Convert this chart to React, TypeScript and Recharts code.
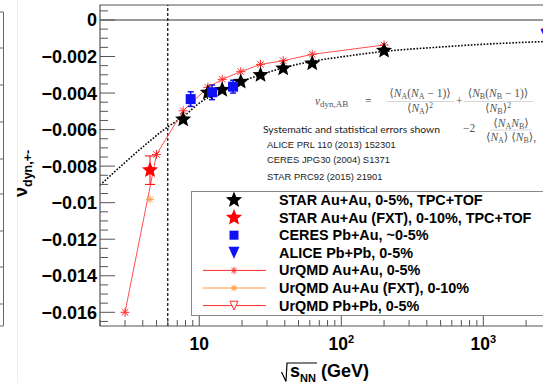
import {
  ComposedChart,
  Line,
  Scatter,
  XAxis,
  YAxis,
  ReferenceLine,
  ReferenceArea,
  ErrorBar,
} from 'recharts'

const SANS = '"Liberation Sans", Arial, Helvetica, sans-serif'
const SERIF = '"Liberation Serif", "DejaVu Serif", serif'

// sqrt(s_NN) in GeV and nu_dyn,+- per dataset
const starEnergy = [7.7, 11.5, 14.5, 19.6, 27, 39, 62.4, 200]
const starValue = [-0.00544, -0.00398, -0.00382, -0.00338, -0.00301, -0.00265, -0.00237, -0.00168]

const fxtEnergy = [4.5]
const fxtValue = [-0.00822]
const fxtError = [0.00078]

const ceresEnergy = [8.7, 12.3, 17.3]
const ceresValue = [-0.00433, -0.00396, -0.00365]
const ceresError = [0.0004, 0.0004, 0.00035]

const aliceEnergy = [2760]
const aliceValue = [-0.00082]

const urqmdEnergy = [3, 5, 7.7, 11.5, 14.5, 19.6, 27, 39, 62.4, 200]
const urqmdValue = [-0.016, -0.00736, -0.00497, -0.00369, -0.00325, -0.00283, -0.00243, -0.00223, -0.00188, -0.00137]

const urqmdFxtEnergy = [4.5]
const urqmdFxtValue = [-0.00982]

const urqmdPbEnergy = [2760]
const urqmdPbValue = [-0.0007]

// dotted trend curve
const trendEnergy = [2, 3, 4, 6, 7.7, 10, 14.5, 20, 27, 39, 62.4, 100, 200, 500, 1000, 2700]
const trendValue = [-0.00904, -0.0078, -0.00695, -0.00585, -0.0053, -0.00455, -0.00385, -0.00335, -0.003, -0.00262, -0.00226, -0.00202, -0.00172, -0.00148, -0.00133, -0.00118]

const legendLabels = [
  'STAR Au+Au, 0-5%, TPC+TOF',
  'STAR Au+Au (FXT), 0-10%, TPC+TOF',
  'CERES Pb+Au, ~0-5%',
  'ALICE Pb+Pb, 0-5%',
  'UrQMD Au+Au, 0-5%',
  'UrQMD Au+Au (FXT), 0-10%',
  'UrQMD Pb+Pb, 0-5%',
]

const references = [
  'ALICE PRL 110 (2013) 152301',
  'CERES JPG30 (2004) S1371',
  'STAR PRC92 (2015) 21901',
]

const yDomain: [number, number] = [-0.01675, 0.00082]
const yMajor = [0, -0.002, -0.004, -0.006, -0.008, -0.01, -0.012, -0.014, -0.016]
const yTicks = Array.from({ length: 35 }, (_, i) => +(0.0005 - i * 0.0005).toFixed(4))

const xDomain: [number, number] = [2, 5000]
const xMajor = [10, 100, 1000]
const xExponent: Record<number, string> = { 10: '', 100: '2', 1000: '3' }
const xTicks = [1, 10, 100, 1000]
  .flatMap(d => [1, 2, 3, 4, 5, 6, 7, 8, 9].map(k => k * d))
  .filter(v => v >= 2 && v <= 5000)

const pts = (e: number[], v: number[], err?: number[]) =>
  e.map((x, i) => ({ e: x, v: v[i], err: err ? err[i] : 0 }))

const RED = '#ff2a2a'
const ORANGE = '#ff9a3c'
const BLUE = '#1010f5'
const AXIS = '#555'

function starPath(cx: number, cy: number, R: number, r: number) {
  let d = ''
  for (let i = 0; i < 10; i++) {
    const rad = i % 2 === 0 ? R : r
    const a = -Math.PI / 2 + (i * Math.PI) / 5
    d += (i === 0 ? 'M' : 'L') + (cx + rad * Math.cos(a)).toFixed(2) + ',' + (cy + rad * Math.sin(a)).toFixed(2)
  }
  return d + 'Z'
}

function Star({ cx, cy, fill }: { cx: number; cy: number; fill: string }) {
  return <path d={starPath(cx, cy, 8.5, 3.8)} fill={fill} />
}

function Asterisk({ cx, cy, r, color }: { cx: number; cy: number; r: number; color: string }) {
  const d = r * 0.7071
  return (
    <g stroke={color} strokeWidth={1}>
      <line x1={cx - r} x2={cx + r} y1={cy} y2={cy} />
      <line x1={cx} x2={cx} y1={cy - r} y2={cy + r} />
      <line x1={cx - d} y1={cy - d} x2={cx + d} y2={cy + d} />
      <line x1={cx - d} y1={cy + d} x2={cx + d} y2={cy - d} />
    </g>
  )
}

function DownTriangle({ cx, cy, size, fill, stroke }: { cx: number; cy: number; size: number; fill: string; stroke?: string }) {
  const h = size * 0.55
  return (
    <path
      d={`M${cx - size / 2},${cy - h} L${cx + size / 2},${cy - h} L${cx},${cy + h} Z`}
      fill={fill}
      stroke={stroke ?? 'none'}
      strokeWidth={1}
    />
  )
}

function YTick(props: any) {
  const { x, y, payload } = props
  const v = payload.value as number
  const major = yMajor.some(m => Math.abs(m - v) < 1e-7)
  const label = v === 0 ? '0' : '\u2212' + String(Math.abs(v))
  return (
    <g>
      <line x1={x} x2={x + (major ? 15 : 8)} y1={y} y2={y} stroke={AXIS} />
      {major && (
        <text x={x - 3} y={y} dy="0.36em" textAnchor="end" fontFamily={SANS} fontWeight="bold" fontSize={18} fill="#000">
          {label}
        </text>
      )}
    </g>
  )
}

function XTick(props: any) {
  const { x, y, payload } = props
  const v = payload.value as number
  const major = xMajor.includes(v)
  const exp = xExponent[v]
  return (
    <g>
      <line x1={x} x2={x} y1={y} y2={y - (major ? 13 : 6)} stroke={AXIS} />
      {major && (
        <text x={x} y={y + 24} textAnchor="middle" fontFamily={SANS} fontWeight="bold" fontSize={17.5} fill="#000">
          10
          {exp && (
            <tspan dy={-7} fontSize={11}>
              {exp}
            </tspan>
          )}
        </text>
      )}
    </g>
  )
}

function LegendIcon({ index, cx, cy }: { index: number; cx: number; cy: number }) {
  switch (index) {
    case 0:
      return <Star cx={cx} cy={cy} fill="#000" />
    case 1:
      return <Star cx={cx} cy={cy} fill="#ff0000" />
    case 2:
      return <rect x={cx - 4.5} y={cy - 4.5} width={9} height={9} fill={BLUE} />
    case 3:
      return <DownTriangle cx={cx} cy={cy} size={11} fill={BLUE} />
    case 4:
      return (
        <g>
          <line x1={12} x2={75} y1={cy} y2={cy} stroke={RED} />
          <Asterisk cx={cx} cy={cy} r={3.5} color={RED} />
        </g>
      )
    case 5:
      return (
        <g>
          <line x1={12} x2={75} y1={cy} y2={cy} stroke={ORANGE} />
          <Asterisk cx={cx} cy={cy} r={3.5} color={ORANGE} />
        </g>
      )
    default:
      return (
        <g>
          <line x1={12} x2={75} y1={cy} y2={cy} stroke={RED} />
          <DownTriangle cx={cx} cy={cy} size={8} fill="#fff" stroke={RED} />
        </g>
      )
  }
}

function Legend() {
  return (
    <svg
      width={400}
      height={125}
      style={{ position: 'absolute', left: 191, top: 191, overflow: 'visible' }}
    >
      <rect x={0.5} y={0.5} width={399} height={124} fill="#fff" stroke="#888" />
      {legendLabels.map((label, i) => {
        const cy = 9 + i * 17.6
        return (
          <g key={label}>
            <LegendIcon index={i} cx={43} cy={cy} />
            <text x={88} y={cy + 5} fontFamily={SANS} fontWeight="bold" fontSize={14.4} fill="#000">
              {label}
            </text>
          </g>
        )
      })}
    </svg>
  )
}

function Sub({ children, size = 8 }: { children: string; size?: number }) {
  return (
    <tspan fontSize={size} dy={2}>
      {children}
    </tspan>
  )
}

function Annotations() {
  const leftTicks = [12, 48, 85, 122, 159, 194, 231, 267, 304, 326]
  return (
    <svg width={543} height={383} style={{ position: 'absolute', left: 0, top: 0, pointerEvents: 'none' }}>
      {/* edge of the neighbouring panel */}
      <line x1={3.5} x2={3.5} y1={12} y2={326} stroke="#666" />
      {leftTicks.map(t => (
        <line key={t} x1={0} x2={3.5} y1={t} y2={t} stroke="#666" />
      ))}
      <line x1={17.5} x2={17.5} y1={0} y2={383} stroke="#eee" />

      {/* formula */}
      <g fontFamily={SERIF} fill="#555" fontSize={11.5}>
        <text x={315} y={105}>
          <tspan fontStyle="italic">ν</tspan>
          <Sub size={9}>dyn,AB</Sub>
        </text>
        <text x={365} y={105}>=</text>
        <text x={420} y={97} textAnchor="middle">
          ⟨<tspan fontStyle="italic">N</tspan>
          <Sub>A</Sub>
          <tspan dy={-2}>(</tspan>
          <tspan fontStyle="italic">N</tspan>
          <Sub>A</Sub>
          <tspan dy={-2}> − 1)⟩</tspan>
        </text>
        <line x1={387} x2={454} y1={101.5} y2={101.5} stroke="#bbb" strokeWidth={0.6} />
        <text x={420} y={112} textAnchor="middle">
          ⟨<tspan fontStyle="italic">N</tspan>
          <Sub>A</Sub>
          <tspan dy={-2}>⟩</tspan>
          <tspan dy={-4} fontSize={7.5}>2</tspan>
        </text>
        <text x={456} y={105}>+</text>
        <text x={498} y={97} textAnchor="middle">
          ⟨<tspan fontStyle="italic">N</tspan>
          <Sub>B</Sub>
          <tspan dy={-2}>(</tspan>
          <tspan fontStyle="italic">N</tspan>
          <Sub>B</Sub>
          <tspan dy={-2}> − 1)⟩</tspan>
        </text>
        <line x1={464} x2={533} y1={101.5} y2={101.5} stroke="#bbb" strokeWidth={0.6} />
        <text x={498} y={112} textAnchor="middle">
          ⟨<tspan fontStyle="italic">N</tspan>
          <Sub>B</Sub>
          <tspan dy={-2}>⟩</tspan>
          <tspan dy={-4} fontSize={7.5}>2</tspan>
        </text>
        <text x={463} y={132}>−2</text>
        <text x={511} y={127} textAnchor="middle">
          ⟨<tspan fontStyle="italic">N</tspan>
          <Sub>A</Sub>
          <tspan dy={-2} fontStyle="italic">N</tspan>
          <Sub>B</Sub>
          <tspan dy={-2}>⟩</tspan>
        </text>
        <line x1={490} x2={532} y1={130} y2={130} stroke="#bbb" strokeWidth={0.6} />
        <text x={511} y={141} textAnchor="middle">
          ⟨<tspan fontStyle="italic">N</tspan>
          <Sub>A</Sub>
          <tspan dy={-2}>⟩ ⟨</tspan>
          <tspan fontStyle="italic">N</tspan>
          <Sub>B</Sub>
          <tspan dy={-2}>⟩,</tspan>
        </text>
      </g>

      <text x={263} y={133} fontFamily='Lato, "Open Sans", sans-serif' fontSize={10.4} fill="#222">
        Systematic and statistical errors shown
      </text>
      {references.map((r, i) => (
        <text key={r} x={267} y={[147.5, 162.5, 180][i]} fontFamily={SANS} fontSize={9.4} fill="#222">
          {r}
        </text>
      ))}

      {/* axis titles */}
      <text transform="translate(27,197) rotate(-90)" fontFamily={SANS} fontWeight="bold" fontSize={18} fill="#000">
        ν<tspan dy={5} fontSize={12.5}>dyn,+-</tspan>
      </text>
      <path d="M281.5,372 L286,381.5 L287,363 L317,363" fill="none" stroke="#000" strokeWidth={1.2} />
      <text x={290} y={377} fontFamily={SANS} fontWeight="bold" fontSize={18} fill="#000">
        s<tspan dy={5} fontSize={11}>NN</tspan>
        <tspan dy={-5} dx={5}>(GeV)</tspan>
      </text>
    </svg>
  )
}

export default function App() {
  return (
    <div
      style={{
        position: 'absolute',
        left: 0,
        top: 0,
        width: 543,
        height: 383,
        overflow: 'hidden',
        background: '#fff',
      }}
    >
      <ComposedChart
        width={620}
        height={383}
        margin={{ top: 5, right: 37.4, bottom: 0, left: 0 }}
        style={{ background: '#fff' }}
      >
        <XAxis
          dataKey="e"
          type="number"
          scale="log"
          domain={xDomain}
          ticks={xTicks}
          interval={0}
          allowDataOverflow
          axisLine={false}
          tickLine={false}
          tickSize={0}
          tickMargin={0}
          height={57}
          tick={XTick}
        />
        <YAxis
          dataKey="v"
          type="number"
          domain={yDomain}
          ticks={yTicks}
          interval={0}
          allowDataOverflow
          axisLine={false}
          tickLine={false}
          tickSize={0}
          tickMargin={0}
          width={100}
          tick={YTick}
        />
        <ReferenceArea
          x1={xDomain[0]}
          x2={xDomain[1]}
          y1={yDomain[0]}
          y2={yDomain[1]}
          fill="none"
          fillOpacity={0}
          stroke={AXIS}
          strokeWidth={1.2}
        />
        <ReferenceLine y={0} stroke="#777" strokeWidth={1.5} />
        <ReferenceLine x={6} stroke="#000" strokeWidth={1.2} strokeDasharray="3 2" />

        <Line
          data={pts(trendEnergy, trendValue)}
          dataKey="v"
          type="monotone"
          stroke="#000"
          strokeWidth={1.6}
          strokeDasharray="1.6 1.6"
          dot={false}
          isAnimationActive={false}
        />
        <Line
          data={pts(urqmdEnergy, urqmdValue)}
          dataKey="v"
          type="linear"
          stroke="#ff4d4d"
          strokeWidth={1}
          dot={(p: any) => <Asterisk key={p.index} cx={p.cx} cy={p.cy} r={4.5} color={RED} />}
          isAnimationActive={false}
        />
        <Line
          data={pts(urqmdPbEnergy, urqmdPbValue)}
          dataKey="v"
          stroke={RED}
          dot={(p: any) => <DownTriangle key={p.index} cx={p.cx} cy={p.cy} size={8} fill="#fff" stroke={RED} />}
          isAnimationActive={false}
        />
        <Scatter
          data={pts(urqmdFxtEnergy, urqmdFxtValue)}
          dataKey="v"
          shape={(p: any) => <Asterisk cx={p.cx} cy={p.cy} r={4} color={ORANGE} />}
          isAnimationActive={false}
        />
        <Scatter
          data={pts(starEnergy, starValue)}
          dataKey="v"
          shape={(p: any) => <Star cx={p.cx} cy={p.cy} fill="#000" />}
          isAnimationActive={false}
        />
        <Scatter
          data={pts(fxtEnergy, fxtValue, fxtError)}
          dataKey="v"
          shape={(p: any) => <Star cx={p.cx} cy={p.cy} fill="#ff0000" />}
          isAnimationActive={false}
        >
          <ErrorBar dataKey="err" direction="y" width={5} stroke="#ff0000" strokeWidth={1} />
        </Scatter>
        <Scatter
          data={pts(ceresEnergy, ceresValue, ceresError)}
          dataKey="v"
          shape={(p: any) => <rect x={p.cx - 5} y={p.cy - 5} width={10} height={10} fill={BLUE} />}
          isAnimationActive={false}
        >
          <ErrorBar dataKey="err" direction="y" width={3} stroke={BLUE} strokeWidth={1.5} />
        </Scatter>
        <Scatter
          data={pts(aliceEnergy, aliceValue)}
          dataKey="v"
          shape={(p: any) => <DownTriangle cx={p.cx} cy={p.cy} size={11} fill={BLUE} />}
          isAnimationActive={false}
        />
      </ComposedChart>
      <Annotations />
      <Legend />
    </div>
  )
}
